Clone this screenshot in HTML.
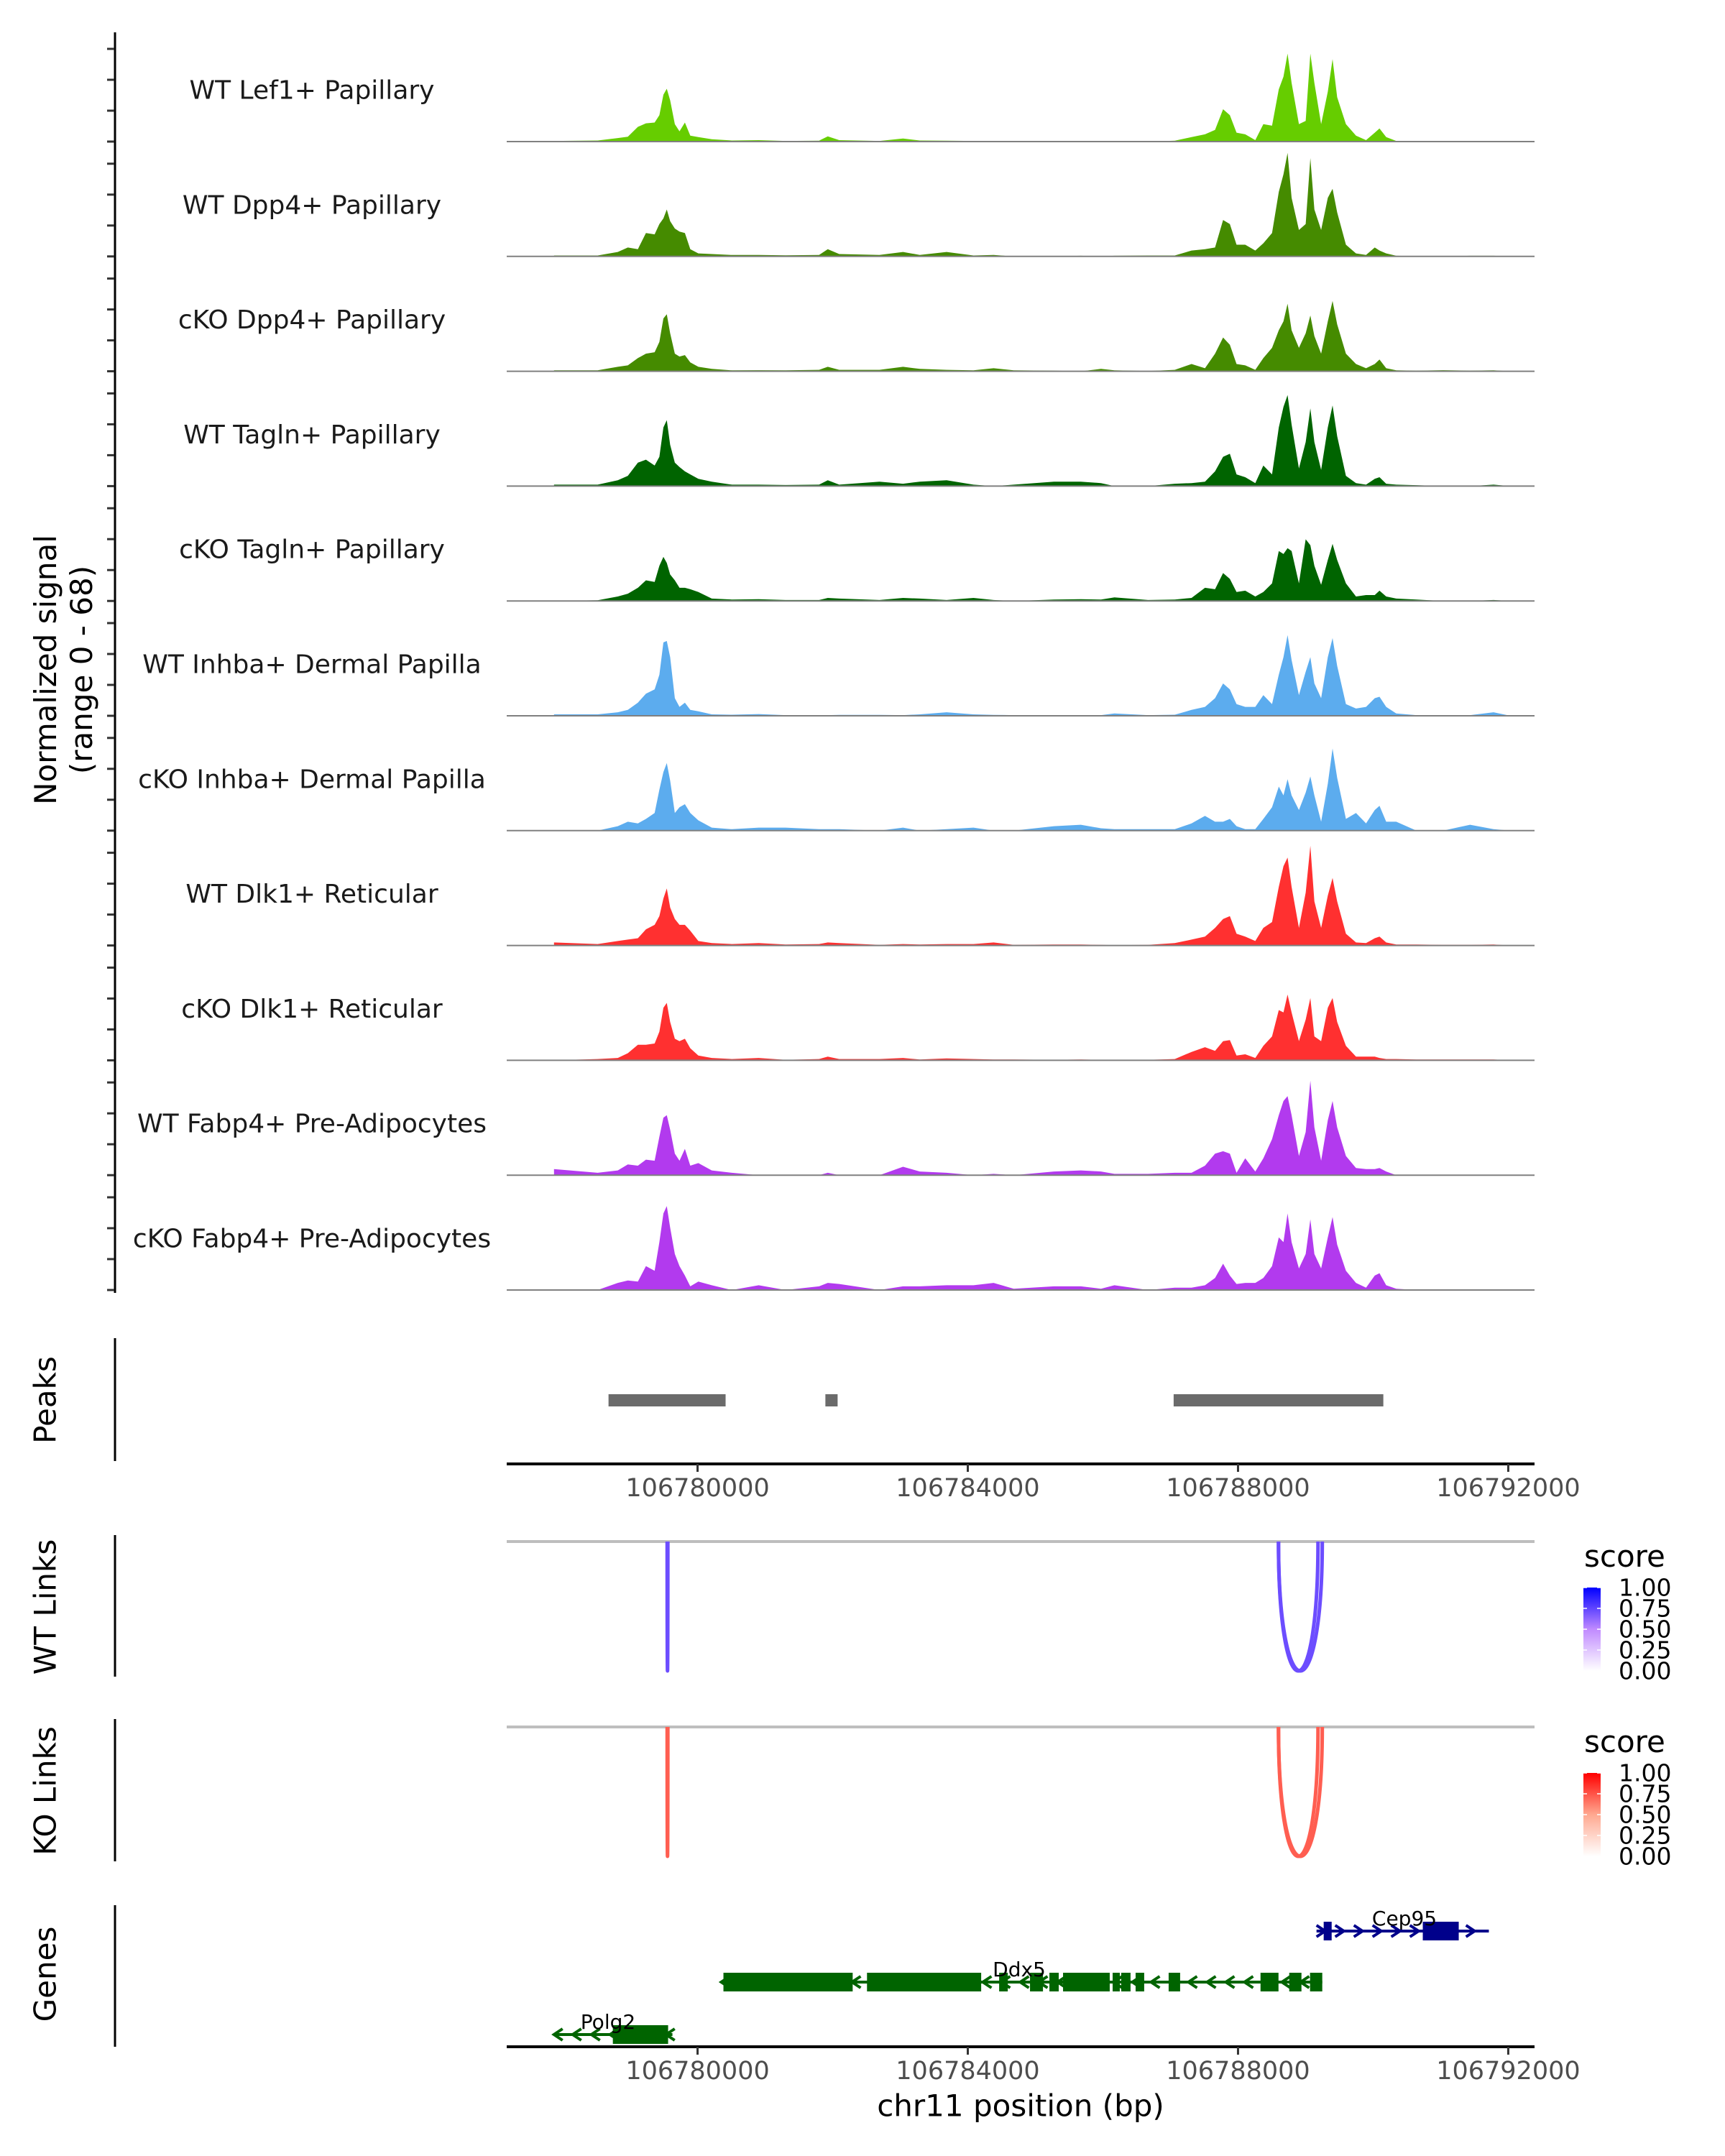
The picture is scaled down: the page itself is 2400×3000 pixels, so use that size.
<!DOCTYPE html>
<html><head><meta charset="utf-8">
<style>
html,body{margin:0;padding:0;background:#fff;}
svg{display:block;font-family:"DejaVu Sans","Liberation Sans",sans-serif;}
</style></head>
<body>
<svg id="chart" width="2400" height="3000" viewBox="0 0 2400 3000" xmlns="http://www.w3.org/2000/svg"></svg>
<script>
// ---------- data ----------
const regionStart = 106777175;
const regionEnd = 106792389;
const xTicks = [106780000, 106784000, 106788000, 106792000];
const yRangeMax = 68;
const trackNames = ["WT Lef1+ Papillary","WT Dpp4+ Papillary","cKO Dpp4+ Papillary","WT Tagln+ Papillary","cKO Tagln+ Papillary","WT Inhba+ Dermal Papilla","cKO Inhba+ Dermal Papilla","WT Dlk1+ Reticular","cKO Dlk1+ Reticular","WT Fabp4+ Pre-Adipocytes","cKO Fabp4+ Pre-Adipocytes"];
const trackColors = ["#66cd00","#458b00","#458b00","#006400","#006400","#5cacee","#5cacee","#ff3030","#ff3030","#b23aee","#b23aee"];
// offsets (bp) from 106780000 of the signal bins
const binOffsets = [-2125,-1479,-1181,-1032,-883,-764,-635,-565,-506,-456,-406,-337,-267,-188,-108,11,210,508,905,1302,1799,1928,2097,2693,3041,3289,3686,4084,4382,4680,5276,5673,5971,6170,6667,7064,7312,7511,7660,7779,7879,7978,8107,8256,8375,8504,8604,8673,8733,8793,8902,9001,9071,9130,9230,9329,9399,9468,9597,9746,9895,10024,10094,10193,10342,10640,11038,11435,11783,12031];
const sigWTLef1 = [0.4,0.7,2.2,3.1,9.3,11.5,12,16.7,29.6,33.3,26,11,6.5,12,3.7,2.8,1.5,0.7,0.9,0.4,0.6,3.3,0.9,0.4,1.9,0.7,0.6,0.4,0.2,0,0.4,0.2,0.2,0,0,0.6,2.8,4.6,7.4,20.4,16.7,5.6,4.6,0.9,11,10,33,41,55.5,37,11,13,55.5,37,11,31.5,52,28,11,3.7,0.9,5.6,8.3,2.8,0.4,0.2,0.4,0.2,0,0];
const sigWTDpp4 = [0.6,0.6,2.8,5.6,4.6,14.8,13.9,20.4,24,29.6,22.2,17.6,15.7,14.8,4.6,1.9,1.5,0.9,0.9,0.7,0.9,4.6,1.5,0.9,2.8,0.9,2.8,0.6,0.9,0,0,0.4,0,0.4,0.6,0.6,3.7,4.6,5.6,23,20.4,7.4,7.4,3.7,8.3,14.8,40.7,51.8,65.3,37,16.7,20.4,62,29.6,16.7,37,42.6,27.8,7.4,1.9,0.9,5.6,3.7,1.9,0.4,0.2,0,0.4,0.4,0];
const sigKODpp4 = [0.6,0.6,2.8,3.7,8.3,11.1,12,18.5,33.3,36,24,11.1,9.3,10.2,5.6,2.8,1.5,0.6,0.7,0.6,0.9,2.8,0.9,0.9,2.8,1.5,0.9,0.6,1.9,0.6,0.4,0,1.5,0.6,0.2,0.9,4.6,1.9,11.1,21.3,16.7,4.6,3.7,0.9,8.3,14.8,25.9,31.5,42.6,25.9,14.8,24,35.2,22.2,11.1,31.5,44.4,29.6,11.1,4.6,1.9,4.6,7.4,1.9,0.6,0.4,0.7,0.4,0.6,0];
const sigWTTagln = [0.9,0.9,3.7,6.5,14.8,16.7,13,18.5,37,41.6,26,14.8,12,9.3,7.4,4.6,2.8,0.9,0.9,0.7,0.9,3.7,0.9,2.8,1.5,2.8,3.7,0.9,0,0.9,2.8,2.8,1.9,0,0,1.5,1.9,2.8,9.3,18.5,20.4,7.4,5.6,1.9,13,7.4,37,50,57.4,38.9,11.1,27.8,49,27.8,10.2,37,50.9,31.5,6.5,1.9,0.9,4.6,5.6,1.5,0.9,0.6,0,0,0.9,0];
const sigKOTagln = [0,0.4,2.8,4.6,8.3,13,12,22.2,27.8,24,16.7,13,8.3,8.3,7.4,5.6,1.5,0.9,1.1,0.6,0.6,1.9,1.5,0.6,1.9,1.5,0.6,1.9,0.6,0,0.9,1.1,0.9,2.2,0.6,0.9,1.9,8.3,7.4,17.6,13.9,5.6,6.5,2.8,5.6,11.1,31.5,29.6,33.3,31.5,11.1,38.9,35.2,22.2,10.2,25.9,36,25.9,11.1,2.8,3.7,3.7,6.5,2.8,1.5,0.9,0,0,0.6,0];
const sigWTInhba = [0.9,0.9,2.2,3.7,8.3,13.9,16.7,25.9,46.3,47.2,37,11.1,5.6,8.3,3.7,2.8,0.9,0.7,1.1,0.4,0.4,0.4,0.6,0.6,0.4,0.9,2.2,0.9,0.6,0.4,0.4,0.4,0.4,1.5,0.4,0.7,3.7,5.6,11.1,20.4,16.7,7.4,5.6,5.6,13,7.4,25.9,37,50.9,35.2,13,27.8,37,20.4,11.1,37,49,31.5,7.4,4.6,5.6,11.1,12,5.6,1.5,0.4,0.4,0.4,2.2,0];
const sigKOInhba = [0,0,2.8,5.6,4.6,7.4,11.1,25.9,37,42.6,31.5,11.1,14.8,16.7,11.1,6.5,1.9,0.9,1.9,1.9,0.9,0.9,0.9,0,1.9,0,0.9,1.9,0,0,2.8,3.7,1.5,0.9,0.9,0.9,4.6,9.3,5.6,5.6,7.4,2.8,0.9,0.9,7.4,14.8,27.8,22.2,32.4,22.2,13,24,34.2,22.2,5.6,29.6,51.8,33.3,7.4,11.1,4.6,13,15.7,5.6,5.6,0,0,3.7,0.9,0];
const sigWTDlk1 = [1.9,0.9,2.8,3.7,4.6,10.2,13,18.5,29.6,36,24,16.7,13,13,9.3,2.8,1.5,0.9,1.5,0.6,0.9,1.9,1.5,0.4,0.9,0.6,0.9,0.9,1.9,0.4,0.6,0.6,0.4,0.2,0.4,1.5,3.7,5.6,11.1,16.7,18.5,7.4,5.6,2.8,11.1,14.8,37,50,55.5,37,11.1,33.3,62.9,27.8,11.1,31.5,42.6,27.8,7.4,1.9,1.5,4.6,5.6,1.9,0.6,0.6,0.4,0.4,0.6,0];
const sigKODlk1 = [0,0.8,1.5,4.5,9.8,9.8,10.6,18.1,33.2,36.2,24.2,13.6,12.1,13.6,7.6,3,1.5,0.8,1.5,0.3,0.8,2.3,0.8,0.8,1.5,0.5,1.2,0.8,0.5,0.5,0.3,0.5,0.3,0.3,0.3,0.8,5.3,8.3,6,12.1,12.8,3,3.8,1.5,9.1,15.1,31.7,30.2,41.5,30.2,12.1,25.7,39.3,15.1,12.1,33.2,39.3,24.2,9.1,2.3,2.3,2.3,1.5,0.8,0.8,0.5,0.5,0.5,0.5,0];
const sigWTFabp4 = [3.8,1.5,3,6.8,6,9.8,9.1,24.2,36.2,37.8,28.7,13.6,9.1,16.6,6,7.6,3,1.5,0,0,0,1.5,0,0,5.3,2.3,1.5,0,0.8,0,2.3,3,2.3,0.8,0.8,1.5,1.5,6,13.6,15.1,13.6,1.5,10.6,2.3,10.6,22.7,37.8,46.8,49.8,37.8,12.1,27.2,59.6,30.2,9.1,34.7,46.8,30.2,12.1,4.5,3.8,3.8,4.5,2.3,0,0,0,0,0,0];
const sigKOFabp4 = [0,0,4.5,6,5.3,15.1,12.1,30.2,48.3,52.9,39.3,22.7,15.1,9.1,2.3,5.3,3,0,3,0,2.3,4.5,3.8,0,2.3,2.3,3,3,4.5,0.8,2.3,2.3,0.8,3,0,1.5,1.5,3,7.6,16.6,9.1,3.8,4.5,4.5,7.6,15.1,33.2,30.2,48.3,30.2,13.6,22.7,44.5,22.7,13.6,33.2,46,28.7,12.1,4.5,1.5,9.1,10.6,3,0.8,0,0,0,0,0];
const trackSignals = [sigWTLef1,sigWTDpp4,sigKODpp4,sigWTTagln,sigKOTagln,sigWTInhba,sigKOInhba,sigWTDlk1,sigKODlk1,sigWTFabp4,sigKOFabp4];
// peaks (offsets from 106780000)
const peakStarts = [-1318, 1892, 7047];
const peakEnds = [415, 2073, 10151];
// links (offsets from 106780000)
const linkStarts = [-450, 8599, 8599];
const linkEnds = [-440, 9184, 9247];
const wtLinkScores = [0.72, 0.72, 0.72];
const koLinkScores = [0.72, 0.72, 0.72];
const legendTicks = [0, 0.25, 0.5, 0.75, 1];
// genes (offsets from 106780000)
const geneNames = ["Cep95","Ddx5","Polg2"];
const geneStrands = ["+","-","-"];
const geneStarts = [9162, 350, -2126];
const geneEnds = [11713, 9247, -372];
const geneExons = [
  [[9268,9386],[10735,11267]],
  [[383,2296],[2508,4198],[4464,4592],[4921,5113],[5208,5346],[5410,6101],[6144,6250],[6271,6409],[6484,6611],[6973,7143],[8333,8599],[8758,8939],[9066,9247]],
  [[-1254,-436]]
];
const geneColors = ["#00008b","#006400","#006400"];

// ---------- layout ----------
const NS = "http://www.w3.org/2000/svg";
const svg = document.getElementById("chart");
const X0 = 705, X1 = 2135;
const BASE = 106780000;
const pxPerBp = (X1 - X0) / (regionEnd - regionStart);
function xScale(bp){ return X0 + (bp - regionStart) * pxPerBp; }
const trackTop0 = 197, trackStep = 159.8, trackH = 150;
function yScale(v, base){ return base - v / yRangeMax * trackH; }
function mk(tag, attrs, parent){
  const e = document.createElementNS(NS, tag);
  for (const k in attrs) e.setAttribute(k, attrs[k]);
  (parent || svg).appendChild(e);
  return e;
}
function txt(s, attrs, parent){ const t = mk("text", attrs, parent); t.textContent = s; return t; }

// ---- signal tracks ----
const sigAxis = mk("line",{x1:160,y1:45,x2:160,y2:1799,stroke:"#000","stroke-width":3});


trackNames.forEach((name, i) => {
  const base = trackTop0 + i * trackStep;
  const g = mk("g",{});
  
  
  const vals = trackSignals[i];
  let d = "M" + xScale(BASE + binOffsets[0]).toFixed(1) + "," + base;
  binOffsets.forEach((o, j) => {
    d += " L" + xScale(BASE + o).toFixed(1) + "," + yScale(vals[j] || 0, base).toFixed(1);
  });
  d += " L" + xScale(BASE + binOffsets[binOffsets.length-1]).toFixed(1) + "," + base + " Z";
  const area = mk("path",{d:d, fill:trackColors[i], stroke:"none"}, g);
  
  
  const bl = mk("line",{x1:X0,y1:base,x2:X1,y2:base,stroke:"#808080","stroke-width":2}, g);
  
  
  const lab = txt(name,{x:434,y:base-71,"text-anchor":"middle","dominant-baseline":"central","font-size":36,fill:"#1a1a1a"}, g);
  
  
  [0,43,86,129].forEach(dy => {
    const t = mk("line",{x1:149,y1:base-dy,x2:159,y2:base-dy,stroke:"#333","stroke-width":3}, g);
    
    
  });
});
const yt = txt("",{transform:"translate(88,932) rotate(-90)","text-anchor":"middle","font-size":42,fill:"#000"});


const ts1 = mk("tspan",{x:0,y:-10}, yt); ts1.textContent = "Normalized signal";
const ts2 = mk("tspan",{x:0,y:40}, yt); ts2.textContent = "(range 0 - 68)";

// ---- side labels & axes ----
function sideLabel(s, cy, y1, y2, nm){
  const t = txt(s,{transform:"translate(63,"+cy+") rotate(-90)","text-anchor":"middle","dominant-baseline":"central","font-size":42,fill:"#000"});
  
  
  const l = mk("line",{x1:160,y1:y1,x2:160,y2:y2,stroke:"#000","stroke-width":3});
  
  
}
sideLabel("Peaks",1948,1862,2033,"peaks");
sideLabel("WT Links",2236,2136,2333,"wt-links");
sideLabel("KO Links",2492,2392,2590,"ko-links");
sideLabel("Genes",2747,2651,2848,"genes");

// ---- peaks ----
peakStarts.forEach((s, i) => {
  const x1 = xScale(BASE + s), x2 = xScale(BASE + peakEnds[i]);
  const r = mk("rect",{x:x1,y:1940,width:x2-x1,height:17,fill:"#6b6b6b"});
  
  
});

// ---- x axes ----
function xAxis(y, labelY, nm){
  const g = mk("g",{});
  
  
  mk("line",{x1:X0,y1:y,x2:X1,y2:y,stroke:"#000","stroke-width":4}, g);
  xTicks.forEach(t => {
    const x = xScale(t);
    const tk = mk("line",{x1:x,y1:y,x2:x,y2:y+11,stroke:"#333","stroke-width":3}, g);
    
    
    const lb = txt(String(t),{x:x,y:labelY,"text-anchor":"middle","dominant-baseline":"central","font-size":35,fill:"#4d4d4d"}, g);
    
    
  });
}
xAxis(2037, 2071, "peaks-x-axis");
xAxis(2848, 2882, "genes-x-axis");
const xt = txt("chr11 position (bp)",{x:1420,y:2930,"text-anchor":"middle","dominant-baseline":"central","font-size":42,fill:"#000"});



// ---- links ----
// three-stop colour ramps: white -> mid -> full
function rampColor(stops, s){
  const seg = s <= 0.5 ? 0 : 1;
  const t = seg === 0 ? s / 0.5 : (s - 0.5) / 0.5;
  const a = stops[seg], b = stops[seg+1];
  return "rgb(" + [0,1,2].map(k => Math.round(a[k] + (b[k]-a[k])*t)).join(",") + ")";
}
const blueRamp = [[255,255,255],[192,138,255],[0,0,255]];
const redRamp = [[255,255,255],[255,168,144],[255,0,0]];
function linkPanel(top, bottom, scores, ramp, nm, gradId){
  const g = mk("g",{});
  
  
  const gl = mk("line",{x1:X0,y1:top,x2:X1,y2:top,stroke:"#bebebe","stroke-width":4}, g);
  
  
  linkStarts.forEach((s, i) => {
    const x1 = xScale(BASE + s), x2 = xScale(BASE + linkEnds[i]);
    const yc = top + (bottom - top) / 0.75;
    const p = mk("path",{d:"M"+x1+","+top+" C"+x1+","+yc+" "+x2+","+yc+" "+x2+","+top, fill:"none", stroke:rampColor(ramp, scores[i]), "stroke-width":5}, g);
    
    
  });
  const lg = mk("g",{});
  
  
  const ly = top - 2145;
  const defs = mk("defs",{}, lg);
  const grad = mk("linearGradient",{id:gradId,x1:0,y1:1,x2:0,y2:0}, defs);
  [0,0.5,1].forEach(o => mk("stop",{offset:o,"stop-color":rampColor(ramp,o)}, grad));
  const tt = txt("score",{x:2204,y:2180+ly,"font-size":42,fill:"#000"}, lg);
  
  
  const barTop = 2209 + ly, barBot = 2325 + ly;
  const bar = mk("rect",{x:2203,y:barTop,width:24,height:barBot-barTop,fill:"url(#"+gradId+")"}, lg);
  
  
  legendTicks.forEach(v => {
    const y = barBot - v * (barBot - barTop);
    mk("line",{x1:2203,y1:y,x2:2208,y2:y,stroke:"#fff","stroke-width":1.5}, lg);
    mk("line",{x1:2222,y1:y,x2:2227,y2:y,stroke:"#fff","stroke-width":1.5}, lg);
    const l = txt(v.toFixed(2),{x:2252,y:y,"dominant-baseline":"central","font-size":33,fill:"#000"}, lg);
    
    
  });
}
linkPanel(2145, 2325, wtLinkScores, blueRamp, "wt-links", "gradWT");
linkPanel(2403, 2583, koLinkScores, redRamp, "ko-links", "gradKO");

// ---- genes ----
const geneY = [2687, 2758, 2831];
geneNames.forEach((name, i) => {
  const g = mk("g",{});
  
  
  const y = geneY[i], col = geneColors[i];
  const x1 = xScale(BASE + geneStarts[i]), x2 = xScale(BASE + geneEnds[i]);
  mk("line",{x1:x1,y1:y,x2:x2,y2:y,stroke:col,"stroke-width":4}, g);
  const dir = geneStrands[i] === "+" ? 1 : -1;
  for (let x = x1 + 6; x <= x2 - 2; x += 26) {
    const tip = dir > 0 ? x + 6 : x - 6;
    const back = dir > 0 ? x - 6 : x + 6;
    mk("polyline",{points:back+","+(y-8)+" "+tip+","+y+" "+back+","+(y+8),fill:"none",stroke:col,"stroke-width":4}, g);
  }
  geneExons[i].forEach(e => {
    const a = xScale(BASE + e[0]), b = xScale(BASE + e[1]);
    const r = mk("rect",{x:a,y:y-13,width:b-a,height:26,fill:col}, g);
    
    
  });
  const lx = [1954, 1418, 846][i];
  const lab = txt(name,{x:lx,y:y-8,"text-anchor":"middle","font-size":28,fill:"#000"}, g);
  
  
});
</script>
</body></html>
